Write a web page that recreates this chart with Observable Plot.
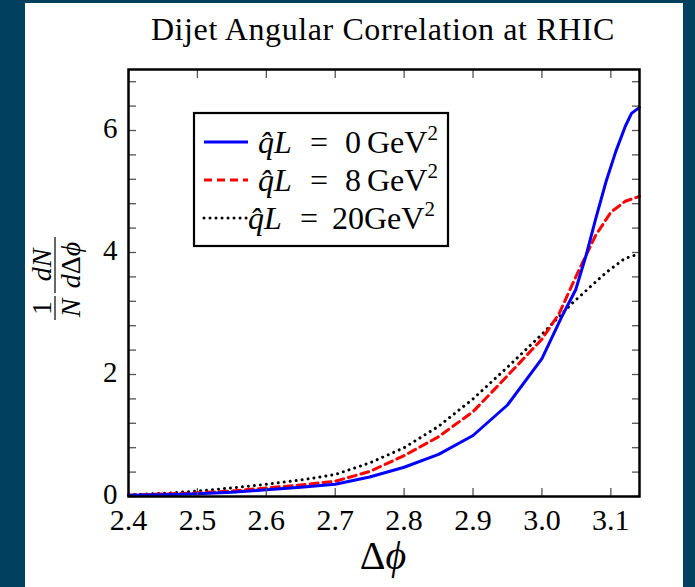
<!DOCTYPE html>
<html>
<head>
<meta charset="utf-8">
<script src="https://cdn.jsdelivr.net/npm/d3@7"></script>
<script src="https://cdn.jsdelivr.net/npm/@observablehq/plot@0.6"></script>
<style>
html,body{margin:0;padding:0;background:#02405f;width:695px;height:587px;overflow:hidden;}
#panel{position:absolute;left:25px;top:3px;width:658px;height:584px;background:#fff;}
#title{position:absolute;left:0;top:9px;width:716px;text-align:center;font-family:'Liberation Serif',serif;font-size:32px;letter-spacing:0.6px;line-height:34px;color:#000;z-index:2;}
#chart{position:absolute;left:0;top:0;}
</style>
</head>
<body>
<div id="panel">
  <div id="title">Dijet Angular Correlation at RHIC</div>
  <div id="chart"></div>
</div>
<script>
// ---- data ----
const blueX  = [2.40, 2.45, 2.50, 2.55, 2.60, 2.65, 2.70, 2.75, 2.80, 2.85, 2.90, 2.95, 3.00, 3.028, 3.049, 3.064, 3.078, 3.093, 3.107, 3.121, 3.130, 3.1416];
const blueY  = [0.02, 0.03, 0.045, 0.07, 0.11, 0.15, 0.20, 0.32, 0.48, 0.69, 1.00, 1.50, 2.26, 2.93, 3.39, 3.95, 4.55, 5.16, 5.65, 6.07, 6.28, 6.38];
const redX   = [2.40, 2.45, 2.50, 2.55, 2.60, 2.65, 2.70, 2.75, 2.80, 2.85, 2.90, 2.95, 3.00, 3.025, 3.054, 3.078, 3.100, 3.121, 3.1416];
const redY   = [0.02, 0.04, 0.06, 0.09, 0.14, 0.19, 0.25, 0.41, 0.67, 0.98, 1.39, 1.98, 2.58, 3.00, 3.72, 4.28, 4.66, 4.84, 4.92];
const blackX = [2.40, 2.45, 2.50, 2.55, 2.60, 2.65, 2.70, 2.75, 2.80, 2.85, 2.90, 2.95, 3.00, 3.044, 3.093, 3.120, 3.1416];
const blackY = [0.03, 0.05, 0.09, 0.14, 0.20, 0.27, 0.36, 0.55, 0.80, 1.15, 1.60, 2.12, 2.66, 3.17, 3.67, 3.90, 3.98];
const seriesValues = ["0", "8", "20"];          // q̂L in GeV^2
const xTicks = [2.4, 2.5, 2.6, 2.7, 2.8, 2.9, 3.0, 3.1];
const yTicks = [0, 2, 4, 6];
const yMinorTicks = [0, 0.4, 0.8, 1.2, 1.6, 2, 2.4, 2.8, 3.2, 3.6, 4, 4.4, 4.8, 5.2, 5.6, 6, 6.4, 6.8];

const toRows = (xs, ys) => xs.map((x, i) => ({x, y: ys[i]}));
const blue = toRows(blueX, blueY);
const red = toRows(redX, redY);
const black = toRows(blackX, blackY);

const serif = "'Liberation Serif', serif";
const tickColor = "#555";
const lw = 3;
const dotted = "0.01,6";
const dashed = "8,5";

const chart = Plot.plot({
  width: 658,
  height: 584,
  marginLeft: 103,
  marginRight: 44,
  marginTop: 66,
  marginBottom: 91,
  x: {domain: [2.4, Math.PI]},
  y: {domain: [0, 7]},
  style: {fontFamily: serif, background: "white", color: "black", overflow: "visible"},
  marks: [
    Plot.line(black, {x: "x", y: "y", stroke: "black", strokeWidth: lw, strokeDasharray: dotted, strokeLinecap: "round"}),
    Plot.line(red, {x: "x", y: "y", stroke: "#ff0000", strokeWidth: lw, strokeDasharray: dashed}),
    Plot.line(blue, {x: "x", y: "y", stroke: "#0000ff", strokeWidth: lw}),
    // inward ticks on all four sides
    Plot.axisX(xTicks, {anchor: "bottom", tickSize: 8, dy: -8, fill: "none", stroke: tickColor, strokeWidth: 1.3, label: null}),
    Plot.axisX(xTicks, {anchor: "top", tickSize: 8, dy: 8, fill: "none", stroke: tickColor, strokeWidth: 1.3, label: null}),
    Plot.axisY(yMinorTicks, {anchor: "left", tickSize: 8, dx: 8, fill: "none", stroke: tickColor, strokeWidth: 1.3, label: null}),
    Plot.axisY(yMinorTicks, {anchor: "right", tickSize: 8, dx: -8, fill: "none", stroke: tickColor, strokeWidth: 1.3, label: null}),
    // tick labels
    Plot.axisX(xTicks, {anchor: "bottom", tickSize: 0, tickPadding: 12, fontSize: 30, tickFormat: d => d.toFixed(1), label: null}),
    Plot.axisY(yTicks, {anchor: "left", tickSize: 0, tickPadding: 11, dy: -2, fontSize: 29, tickFormat: d => String(d), label: null}),
    Plot.frame({stroke: "black", strokeWidth: 2.5})
  ]
});
document.getElementById("chart").appendChild(chart);

const svg = d3.select(chart);

// y-axis label: (1/N) (dN / dΔϕ), rotated
const yl = svg.append("g")
  .attr("transform", "translate(30,284) rotate(-90)")
  .attr("font-family", serif)
  .attr("font-size", 28)
  .attr("fill", "black");
yl.append("text").attr("x", -21).attr("y", -4).attr("text-anchor", "middle").text("1");
yl.append("line").attr("x1", -33).attr("x2", -9).attr("y1", 0).attr("y2", 0).attr("stroke", "black").attr("stroke-width", 1.2);
yl.append("text").attr("x", -21).attr("y", 25).attr("text-anchor", "middle").attr("font-style", "italic").text("N");
yl.append("text").attr("x", 22).attr("y", -4).attr("text-anchor", "middle").attr("font-style", "italic").text("dN");
yl.append("line").attr("x1", -6).attr("x2", 50).attr("y1", 0).attr("y2", 0).attr("stroke", "black").attr("stroke-width", 1.2);
const den = yl.append("text").attr("x", 22).attr("y", 25).attr("text-anchor", "middle");
den.append("tspan").attr("font-style", "italic").text("d");
den.append("tspan").text("Δ");
den.append("tspan").attr("font-style", "italic").text("\u03D5");

// x-axis label Δϕ
const xl = svg.append("text")
  .attr("x", 358).attr("y", 566)
  .attr("text-anchor", "middle")
  .attr("font-family", serif)
  .attr("font-size", 40)
  .attr("fill", "black");
xl.append("tspan").text("Δ");
xl.append("tspan").attr("font-style", "italic").text("\u03D5");

// legend
const lg = svg.append("g").attr("font-family", serif).attr("font-size", 32).attr("fill", "black");
lg.append("rect").attr("x", 169).attr("y", 110).attr("width", 254).attr("height", 133)
  .attr("fill", "white").attr("stroke", "black").attr("stroke-width", 2.2);
const styles = [
  {stroke: "#0000ff", dash: null, cap: "butt"},
  {stroke: "#ff0000", dash: dashed, cap: "butt"},
  {stroke: "black", dash: dotted, cap: "round"}
];
const rowY = [139, 177, 215];
// text positions inside the legend (pixels)
const txtX = [[233, 285, 320, 342], [233, 285, 320, 342], [223, 275, 307, 339]];
seriesValues.forEach((v, i) => {
  const ln = lg.append("line").attr("x1", 179).attr("x2", 223).attr("y1", rowY[i]).attr("y2", rowY[i])
    .attr("stroke", styles[i].stroke).attr("stroke-width", lw).attr("stroke-linecap", styles[i].cap);
  if (styles[i].dash) ln.attr("stroke-dasharray", styles[i].dash);
  const t = lg.append("text").attr("y", rowY[i] + 11).attr("text-anchor", "start");
  const p = txtX[i];
  t.append("tspan").attr("x", p[0]).attr("font-style", "italic").text("q\u0302L");
  t.append("tspan").attr("x", p[1]).text("=");
  t.append("tspan").attr("x", p[2]).text(v);
  t.append("tspan").attr("x", p[3]).text("GeV");
  t.append("tspan").attr("font-size", 21).attr("dy", -13).text("2");
});
</script>
</body>
</html>
